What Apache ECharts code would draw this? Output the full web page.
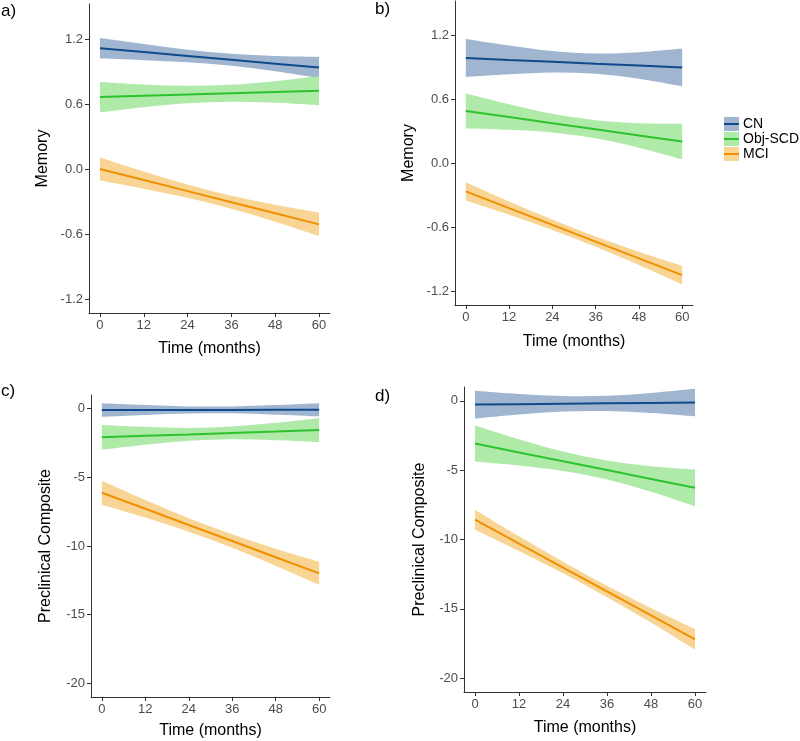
<!DOCTYPE html>
<html>
<head>
<meta charset="utf-8">
<script src="https://cdn.jsdelivr.net/npm/echarts@6/dist/echarts.min.js"></script>
<style>html,body{margin:0;padding:0;background:#fff;}#c{width:800px;height:741px;}</style>
</head>
<body>
<div id="c"></div>
<script>
// ---- data ----
var months = [0, 12, 24, 36, 48, 60];
var xTicks = [0, 12, 24, 36, 48, 60];
var memTicks = [-1.2, -0.6, 0, 0.6, 1.2];
var pacTicks = [-20, -15, -10, -5, 0];
var groups = ['CN', 'Obj-SCD', 'MCI'];

// Panel a (Memory)
var cnA = [1.117, 1.082, 1.046, 1.011, 0.975, 0.940];
var cnAUp = [1.212, 1.157, 1.104, 1.066, 1.045, 1.037];
var cnALo = [1.022, 1.007, 0.988, 0.956, 0.905, 0.843];
var scdA = [0.667, 0.679, 0.691, 0.702, 0.714, 0.726];
var scdAUp = [0.807, 0.784, 0.771, 0.780, 0.814, 0.861];
var scdALo = [0.527, 0.574, 0.611, 0.624, 0.614, 0.591];
var mciA = [0.003, -0.099, -0.201, -0.304, -0.406, -0.508];
var mciAUp = [0.110, -0.019, -0.139, -0.244, -0.328, -0.400];
var mciALo = [-0.104, -0.179, -0.263, -0.364, -0.484, -0.616];

// Panel b (Memory)
var cnB = [0.991, 0.973, 0.956, 0.938, 0.921, 0.903];
var cnBUp = [1.169, 1.108, 1.056, 1.033, 1.046, 1.081];
var cnBLo = [0.813, 0.838, 0.856, 0.843, 0.796, 0.725];
var scdB = [0.495, 0.438, 0.380, 0.323, 0.265, 0.208];
var scdBUp = [0.659, 0.558, 0.468, 0.408, 0.380, 0.375];
var scdBLo = [0.331, 0.318, 0.292, 0.238, 0.150, 0.041];
var mciB = [-0.260, -0.417, -0.574, -0.732, -0.889, -1.046];
var mciBUp = [-0.174, -0.355, -0.525, -0.684, -0.827, -0.959];
var mciBLo = [-0.346, -0.479, -0.623, -0.780, -0.951, -1.133];

// Panel c (Preclinical Composite)
var cnC = [-0.10, -0.095, -0.09, -0.085, -0.08, -0.075];
var cnCUp = [0.39, 0.265, 0.17, 0.165, 0.27, 0.405];
var cnCLo = [-0.59, -0.455, -0.35, -0.335, -0.43, -0.555];
var scdC = [-2.08, -1.97, -1.87, -1.76, -1.66, -1.55];
var scdCUp = [-1.18, -1.32, -1.40, -1.30, -1.03, -0.67];
var scdCLo = [-2.98, -2.62, -2.34, -2.22, -2.29, -2.43];
var mciC = [-6.12, -7.29, -8.47, -9.64, -10.82, -11.99];
var mciCUp = [-5.25, -6.65, -7.97, -9.15, -10.20, -11.15];
var mciCLo = [-6.99, -7.93, -8.97, -10.13, -11.44, -12.83];

// Panel d (Preclinical Composite)
var cnD = [-0.27, -0.24, -0.21, -0.18, -0.15, -0.12];
var cnDUp = [0.73, 0.50, 0.35, 0.37, 0.57, 0.87];
var cnDLo = [-1.27, -0.98, -0.77, -0.73, -0.87, -1.11];
var scdD = [-3.08, -3.72, -4.36, -4.99, -5.63, -6.27];
var scdDUp = [-1.78, -2.77, -3.66, -4.31, -4.71, -4.95];
var scdDLo = [-4.38, -4.67, -5.06, -5.67, -6.55, -7.59];
var mciD = [-8.57, -10.30, -12.02, -13.75, -15.47, -17.20];
var mciDUp = [-7.85, -9.77, -11.60, -13.34, -14.95, -16.45];
var mciDLo = [-9.29, -10.83, -12.44, -14.16, -15.99, -17.95];

// ---- styles ----
var lineColors = ['#0e4a8c', '#2ec22e', '#f09000'];
var fillColors = ['rgba(150,174,203,0.9)', 'rgba(166,232,160,0.9)', 'rgba(248,208,138,0.9)'];
var legendFill = ['#a0b5cf', '#aeeaa9', '#f9d596'];
var FONT = 'Liberation Sans, Arial, sans-serif';

var panels = [
  {grid: {left: 89, top: 4, width: 241, height: 309}, ymin: -1.326, ymax: 1.526, ticks: memTicks, dec: 1, yname: 'Memory', ynameGap: 38, xnameGap: 28,
   lines: [cnA, scdA, mciA], ups: [cnAUp, scdAUp, mciAUp], los: [cnALo, scdALo, mciALo]},
  {grid: {left: 455, top: 1, width: 238, height: 304}, ymin: -1.326, ymax: 1.526, ticks: memTicks, dec: 1, yname: 'Memory', ynameGap: 38, xnameGap: 29,
   lines: [cnB, scdB, mciB], ups: [cnBUp, scdBUp, mciBUp], los: [cnBLo, scdBLo, mciBLo]},
  {grid: {left: 91, top: 395, width: 239, height: 302}, ymin: -21, ymax: 1, ticks: pacTicks, dec: 0, yname: 'Preclinical Composite', ynameGap: 37, xnameGap: 26,
   lines: [cnC, scdC, mciC], ups: [cnCUp, scdCUp, mciCUp], los: [cnCLo, scdCLo, mciCLo]},
  {grid: {left: 464, top: 387, width: 242, height: 305}, ymin: -21, ymax: 1, ticks: pacTicks, dec: 0, yname: 'Preclinical Composite', ynameGap: 36, xnameGap: 28,
   lines: [cnD, scdD, mciD], ups: [cnDUp, scdDUp, mciDUp], los: [cnDLo, scdDLo, mciDLo]}
];

function pairs(xs, ys) { return xs.map(function (x, i) { return [x, ys[i]]; }); }

// Catmull-Rom spline through pixel points (rendering only)
function splineSeg(pts) {
  var s = '';
  for (var i = 0; i < pts.length - 1; i++) {
    var p0 = pts[i - 1] || pts[i], p1 = pts[i], p2 = pts[i + 1], p3 = pts[i + 2] || pts[i + 1];
    var c1x = p1[0] + (p2[0] - p0[0]) / 6, c1y = p1[1] + (p2[1] - p0[1]) / 6;
    var c2x = p2[0] - (p3[0] - p1[0]) / 6, c2y = p2[1] - (p3[1] - p1[1]) / 6;
    s += 'C' + c1x + ',' + c1y + ' ' + c2x + ',' + c2y + ' ' + p2[0] + ',' + p2[1];
  }
  return s;
}

function makeBandRender(rows, color) {
  return function (params, api) {
    if (params.dataIndex !== 0) return null;
    var upPts = rows.map(function (r) { return api.coord([r[0], r[2]]); });
    var loPts = rows.map(function (r) { return api.coord([r[0], r[1]]); }).reverse();
    var d = 'M' + upPts[0][0] + ',' + upPts[0][1] + splineSeg(upPts) +
            'L' + loPts[0][0] + ',' + loPts[0][1] + splineSeg(loPts) + 'Z';
    return {type: 'path', shape: {pathData: d}, style: {fill: color, stroke: null}};
  };
}

var grids = [], xAxes = [], yAxes = [], series = [];
panels.forEach(function (p, pi) {
  grids.push(p.grid);
  var axisLine = {show: true, onZero: false, lineStyle: {color: '#333333', width: 1}};
  var axisTick = {show: true, length: 4, lineStyle: {color: '#333333'}};
  xAxes.push({
    gridIndex: pi, type: 'value', min: -3, max: 63,
    axisLine: axisLine, axisTick: Object.assign({customValues: xTicks}, axisTick),
    axisLabel: {customValues: xTicks, color: '#4d4d4d', fontSize: 13, fontFamily: FONT, margin: 6},
    splitLine: {show: false},
    name: 'Time (months)', nameLocation: 'middle', nameGap: p.xnameGap,
    nameTextStyle: {color: '#000', fontSize: 16, fontFamily: FONT}
  });
  yAxes.push({
    gridIndex: pi, type: 'value', min: p.ymin, max: p.ymax,
    axisLine: axisLine, axisTick: Object.assign({customValues: p.ticks}, axisTick),
    axisLabel: {customValues: p.ticks, color: '#4d4d4d', fontSize: 13, fontFamily: FONT, margin: 6,
      formatter: (function (d) { return function (v) { return (+v).toFixed(d); }; })(p.dec)},
    splitLine: {show: false},
    name: p.yname, nameLocation: 'middle', nameGap: p.ynameGap, nameRotate: 90,
    nameTextStyle: {color: '#000', fontSize: 16, fontFamily: FONT}
  });
  // confidence bands
  for (var g = 0; g < 3; g++) {
    var rows = months.map(function (m, i) { return [m, p.los[g][i], p.ups[g][i]]; });
    series.push({
      type: 'custom', xAxisIndex: pi, yAxisIndex: pi, silent: true, z: 1,
      data: rows, encode: {x: 0, y: [1, 2]},
      renderItem: makeBandRender(rows, fillColors[g])
    });
  }
  // fitted lines
  for (var k = 0; k < 3; k++) {
    series.push({
      type: 'line', name: groups[k], xAxisIndex: pi, yAxisIndex: pi,
      data: pairs(months, p.lines[k]), symbol: 'none', silent: true,
      lineStyle: {color: lineColors[k], width: 2}, z: 3
    });
  }
});

// legend (key)
var gfx = [];
groups.forEach(function (name, i) {
  var y = 117 + i * 15;
  gfx.push({type: 'rect', shape: {x: 724, y: y, width: 15, height: 14}, style: {fill: legendFill[i]}});
  gfx.push({type: 'line', shape: {x1: 724, y1: y + 7, x2: 739, y2: y + 7}, style: {stroke: lineColors[i], lineWidth: 2}});
  gfx.push({type: 'text', x: 743, y: y + 7, style: {text: name, fill: '#000', font: '14px ' + FONT, textVerticalAlign: 'middle'}});
});
var labels = [['a)', 1, 3], ['b)', 375, 1], ['c)', 1, 383], ['d)', 375, 388]];
labels.forEach(function (l) {
  gfx.push({type: 'text', x: l[1], y: l[2], style: {text: l[0], fill: '#000', font: '17px ' + FONT}});
});

var chart = echarts.init(document.getElementById('c'), null, {renderer: 'canvas'});
chart.setOption({
  animation: false,
  backgroundColor: '#ffffff',
  grid: grids, xAxis: xAxes, yAxis: yAxes, series: series,
  graphic: gfx
});
</script>
</body>
</html>
